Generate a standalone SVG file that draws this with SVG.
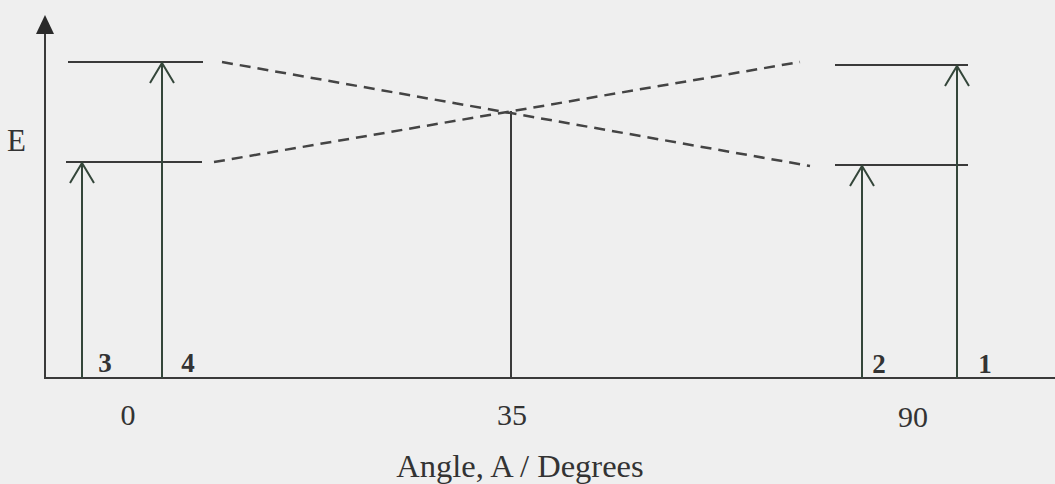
<svg xmlns="http://www.w3.org/2000/svg" width="1055" height="484" viewBox="0 0 1055 484">
  <style>
    .ln{stroke:#3a3a3a;stroke-width:2;fill:none}
    .ar{stroke:#34463a;stroke-width:2;fill:none}
    .ds{stroke:#444;stroke-width:2.5;fill:none;stroke-dasharray:11 7}
    .t{font-family:"Liberation Serif","Times New Roman",serif;fill:#333}
    .n{font-size:30px}
    .b{font-size:27px;font-weight:bold}
  </style>
  <defs>
    <marker id="vee" markerWidth="30" markerHeight="30" refX="27" refY="15" markerUnits="userSpaceOnUse" orient="auto" viewBox="0 0 30 30">
      <path d="M7,3 L27,15 L7,27" stroke="#34463a" stroke-width="2" fill="none"/>
    </marker>
  </defs>
  <rect width="1055" height="484" fill="#efefef"/>

  <g id="axes">
    <line class="ln" x1="45" y1="30" x2="45" y2="379"/>
    <polygon points="45,15 36,34 54,34" fill="#2a2a2a"/>
    <line class="ln" x1="44" y1="378" x2="1055" y2="378"/>
    <text class="t" font-size="31" x="7" y="151">E</text>
    <text class="t n" x="128" y="425" text-anchor="middle">0</text>
    <text class="t n" x="512" y="425" text-anchor="middle">35</text>
    <text class="t n" x="913" y="427" text-anchor="middle">90</text>
    <text class="t" font-size="32.5" x="520" y="477" text-anchor="middle">Angle, A / Degrees</text>
  </g>

  <g id="levels-left">
    <line class="ln" x1="68" y1="62" x2="203" y2="62"/>
    <line class="ln" x1="66" y1="162" x2="202" y2="162"/>
  </g>
  <g id="levels-right">
    <line class="ln" x1="835" y1="65" x2="968" y2="65"/>
    <line class="ln" x1="835" y1="165" x2="968" y2="165"/>
  </g>
  <g id="crossing">
    <line class="ln" x1="511" y1="111" x2="511" y2="378"/>
  </g>

  <g id="connectors">
    <line class="ds" x1="222" y1="62" x2="810" y2="166"/>
    <line class="ds" x1="214" y1="162" x2="800" y2="62"/>
    <line class="ar" x1="82" y1="378" x2="82" y2="163" marker-end="url(#vee)"/>
    <line class="ar" x1="162" y1="378" x2="162" y2="63" marker-end="url(#vee)"/>
    <line class="ar" x1="862" y1="378" x2="862" y2="166" marker-end="url(#vee)"/>
    <line class="ar" x1="957" y1="378" x2="957" y2="66" marker-end="url(#vee)"/>
  </g>

  <g id="labels">
    <text class="t b" x="105" y="372" text-anchor="middle">3</text>
    <text class="t b" x="188" y="372" text-anchor="middle">4</text>
    <text class="t b" x="879" y="373" text-anchor="middle">2</text>
    <text class="t b" x="985" y="373" text-anchor="middle">1</text>
  </g>
</svg>
